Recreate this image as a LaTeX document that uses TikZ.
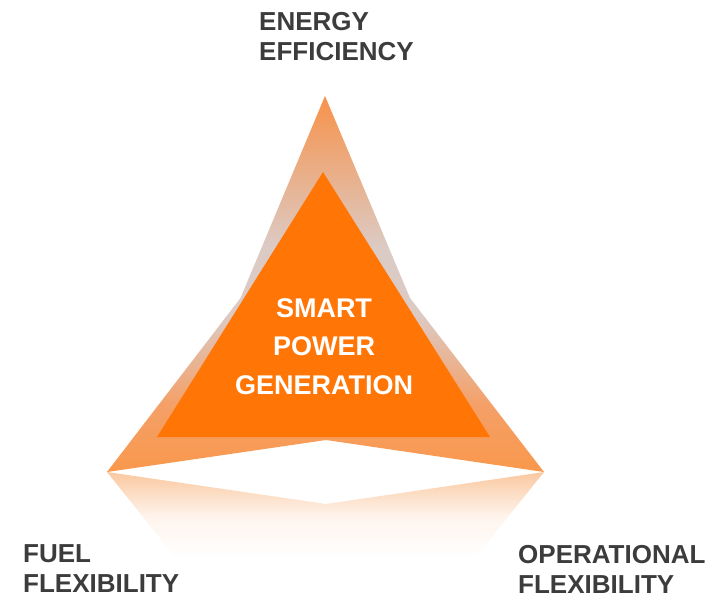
\documentclass[tikz,border=0pt]{standalone}
\usepackage{fontspec}
\setmainfont{Liberation Sans}
\usepackage{tikz}
\definecolor{spgcore}{HTML}{FF7506}
\definecolor{spgtop}{HTML}{F7924A}
\definecolor{spggray}{HTML}{DCCAC4}
\definecolor{spglow}{HTML}{F4A068}
\definecolor{spgbot}{HTML}{F9984C}
\definecolor{spgrefl}{HTML}{FAC8A0}
\definecolor{spgtext}{HTML}{3C3C3C}
\pgfdeclareverticalshading{spgouter}{100bp}{color(0bp)=(spgbot); color(25bp)=(spgbot);
  color(34bp)=(spglow); color(46bp)=(spggray); color(55bp)=(spggray);
  color(75bp)=(spgtop); color(100bp)=(spgtop)}
\pgfdeclareverticalshading{spgfade}{100bp}{color(0bp)=(white); color(50bp)=(white);
  color(62bp)=(white!80!spgrefl); color(75bp)=(spgrefl); color(100bp)=(spgrefl)}

\begin{document}
\begin{tikzpicture}[x=1pt,y=-1pt,
  corner/.style={font=\bfseries\fontsize{26}{30}\selectfont,text=spgtext,
    align=left,inner sep=0pt,anchor=north west}]
  \useasboundingbox (0,0) rectangle (722,598);
  % star points
  \coordinate (top) at (325,96);
  \coordinate (left) at (107,472);
  \coordinate (right) at (544,472);
  % reflection under the base
  \shade[shading=spgfade] (left) -- (326,504) -- (right) -- (406,644)
    -- (244.5,644) -- cycle;
  % outer star and inner triangle
  \shade[shading=spgouter] (top) -- (410,298) -- (right) -- (326,440)
    -- (left) -- (240.5,298) -- cycle;
  \fill[spgcore] (323,172) -- (490,437) -- (157,437) -- cycle;
  \node[font=\bfseries\fontsize{27}{38.5}\selectfont,text=white,align=center,
    inner sep=0pt] (core) at (324,346.5) {SMART\\POWER\\GENERATION};
  % the three corners
  \node[corner] (energy) at (259,12.5) {ENERGY\\EFFICIENCY};
  \node[corner] (fuel) at (23,544) {FUEL\\FLEXIBILITY};
  \node[corner] (oper) at (518,545) {OPERATIONAL\\FLEXIBILITY};
\end{tikzpicture}
\end{document}
